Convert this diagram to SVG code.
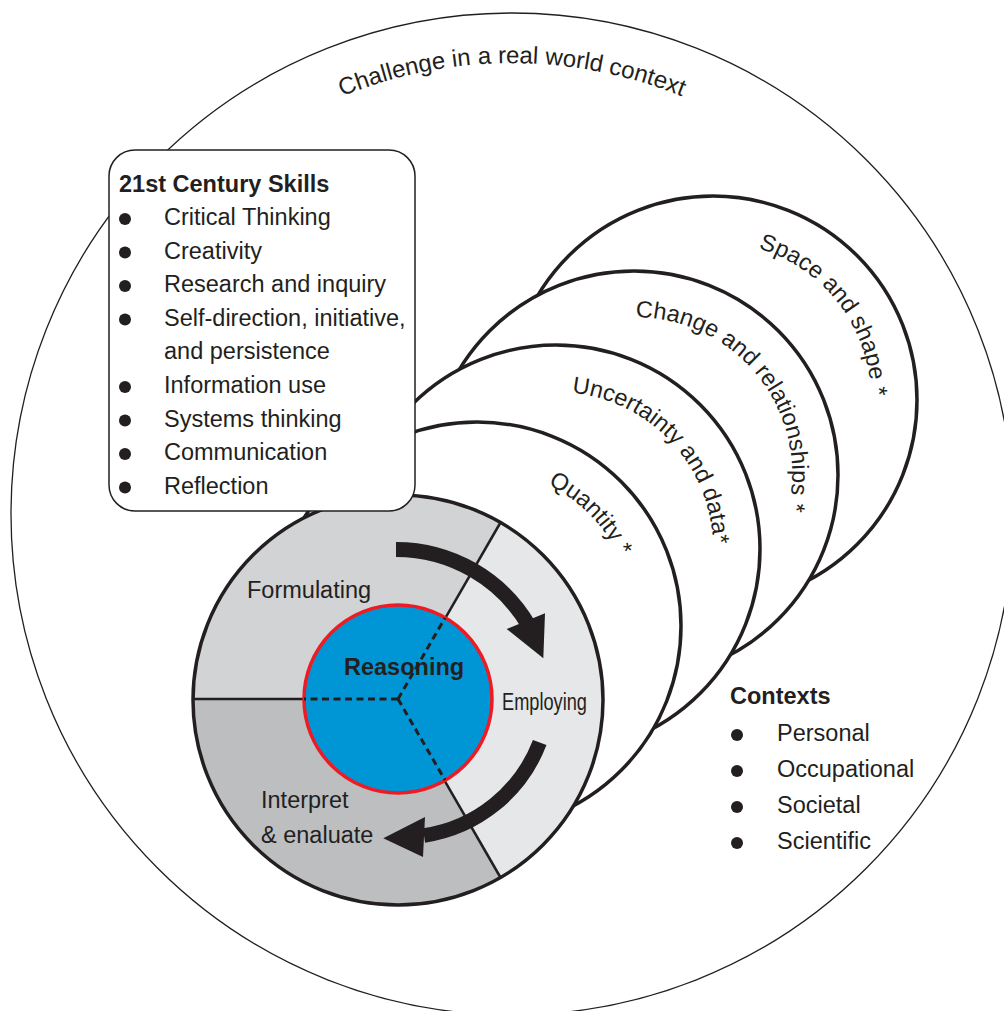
<svg xmlns="http://www.w3.org/2000/svg" width="1004" height="1011" viewBox="0 0 1004 1011">
<defs>
<style>
text { font-family: "Liberation Sans", Arial, Helvetica, sans-serif; fill: #231f20; }
.lbl { font-size: 23.5px; }
.b { font-weight: bold; }
.dom { fill: #ffffff; stroke: #231f20; stroke-width: 3.5; }
.dot { fill: #231f20; }
.solid { stroke: #231f20; stroke-width: 2.5; fill: none; }
.dash { stroke: #231f20; stroke-width: 3; stroke-dasharray: 7 4.5; fill: none; }
.arrow { stroke: #231f20; fill: none; }
.head { fill: #231f20; }
</style>
<path id="p-challenge" d="M61,514 A451,451 0 0 1 963,514"/>
<path id="p-space" d="M618.7,274.4 A157,157 0 0 1 809.4,523.9"/>
<path id="p-change" d="M537.8,350.9 A157,157 0 0 1 732.4,597.4"/>
<path id="p-uncert" d="M448.9,434.2 A157,157 0 0 1 665.1,661.9"/>
<path id="p-quant" d="M367.5,513.4 A157,157 0 0 1 588.4,736.6"/>
</defs>
<rect width="1004" height="1011" fill="#ffffff"/>

<g id="real-world-context">
<circle cx="512" cy="514" r="501" fill="#ffffff" stroke="#231f20" stroke-width="1.3"/>
<text font-size="24"><textPath href="#p-challenge" startOffset="50%" text-anchor="middle">Challenge in a real world context</textPath></text>
</g>

<g id="space-and-shape">
<circle class="dom" cx="713" cy="400" r="204"/>
<text class="lbl" font-size="23"><textPath href="#p-space" startOffset="246.6" text-anchor="middle">Space and shape *</textPath></text>
</g>

<g id="change-and-relationships">
<circle class="dom" cx="634" cy="475" r="204"/>
<text class="lbl"><textPath href="#p-change" startOffset="246.6" text-anchor="middle">Change and relationships *</textPath></text>
</g>

<g id="uncertainty-and-data">
<circle class="dom" cx="556" cy="549" r="204"/>
<text class="lbl"><textPath href="#p-uncert" startOffset="246.6" text-anchor="middle">Uncertainty and data*</textPath></text>
</g>

<g id="quantity">
<circle class="dom" cx="477" cy="626" r="204"/>
<text class="lbl"><textPath href="#p-quant" startOffset="246.6" text-anchor="middle">Quantity *</textPath></text>
</g>

<g id="process-cycle">
<path d="M398,700 L193,700 A205,205 0 0 1 500.5,522.5 Z" fill="#d1d3d4"/>
<path d="M398,700 L500.5,522.5 A205,205 0 0 1 500.5,877.5 Z" fill="#e6e7e8"/>
<path d="M398,700 L500.5,877.5 A205,205 0 0 1 193,700 Z" fill="#bcbec0"/>
<circle cx="398" cy="700" r="205" fill="none" stroke="#231f20" stroke-width="3.5"/>
<line class="solid" x1="304" y1="699" x2="193" y2="699"/>
<line class="solid" x1="445" y1="618.6" x2="500.5" y2="522.5"/>
<line class="solid" x1="445" y1="781.4" x2="500.5" y2="877.5"/>
<text class="lbl" x="247" y="598">Formulating</text>
<text class="lbl" x="502" y="710" font-size="21" textLength="85" lengthAdjust="spacingAndGlyphs">Employing</text>
<text class="lbl" x="261" y="808">Interpret</text>
<text class="lbl" x="261" y="843">&amp; enaluate</text>
</g>

<g id="reasoning">
<circle cx="398" cy="699" r="94" fill="#0096d6" stroke="#ed1c24" stroke-width="3.5"/>
<path class="dash" d="M398,699 L304,699 M398,699 L445,618 M398,699 L445,780"/>
<text class="lbl b" x="344" y="675">Reasoning</text>
</g>

<g id="connectors">
<path class="arrow" stroke-width="15" d="M396,549.5 A153.9,153.9 0 0 1 529.3,626.4"/>
<polygon class="head" points="506.7,629 545,613.3 543.3,658.3"/>
<path class="arrow" stroke-width="14.5" d="M539.7,742.5 A147,147 0 0 1 424,835.5"/>
<polygon class="head" points="425,817 423,857 383.3,838.3"/>
</g>

<g id="skills-box">
<rect x="109" y="150" width="306" height="361" rx="26" ry="26" fill="#ffffff" stroke="#231f20" stroke-width="1.5"/>
<text class="lbl b" x="119" y="192">21st Century Skills</text>
<circle class="dot" cx="125" cy="219" r="6"/><text class="lbl" x="164" y="225">Critical Thinking</text>
<circle class="dot" cx="125" cy="252.5" r="6"/><text class="lbl" x="164" y="258.5">Creativity</text>
<circle class="dot" cx="125" cy="286" r="6"/><text class="lbl" x="164" y="292">Research and inquiry</text>
<circle class="dot" cx="125" cy="319.5" r="6"/><text class="lbl" x="164" y="325.5">Self-direction, initiative,</text>
<text class="lbl" x="164" y="359">and persistence</text>
<circle class="dot" cx="125" cy="387" r="6"/><text class="lbl" x="164" y="393">Information use</text>
<circle class="dot" cx="125" cy="420.5" r="6"/><text class="lbl" x="164" y="426.5">Systems thinking</text>
<circle class="dot" cx="125" cy="454" r="6"/><text class="lbl" x="164" y="460">Communication</text>
<circle class="dot" cx="125" cy="487.5" r="6"/><text class="lbl" x="164" y="493.5">Reflection</text>
</g>

<g id="contexts">
<text class="lbl b" x="730" y="704">Contexts</text>
<circle class="dot" cx="737" cy="735" r="6"/><text class="lbl" x="777" y="741">Personal</text>
<circle class="dot" cx="737" cy="771" r="6"/><text class="lbl" x="777" y="777">Occupational</text>
<circle class="dot" cx="737" cy="807" r="6"/><text class="lbl" x="777" y="813">Societal</text>
<circle class="dot" cx="737" cy="843" r="6"/><text class="lbl" x="777" y="849">Scientific</text>
</g>
</svg>
